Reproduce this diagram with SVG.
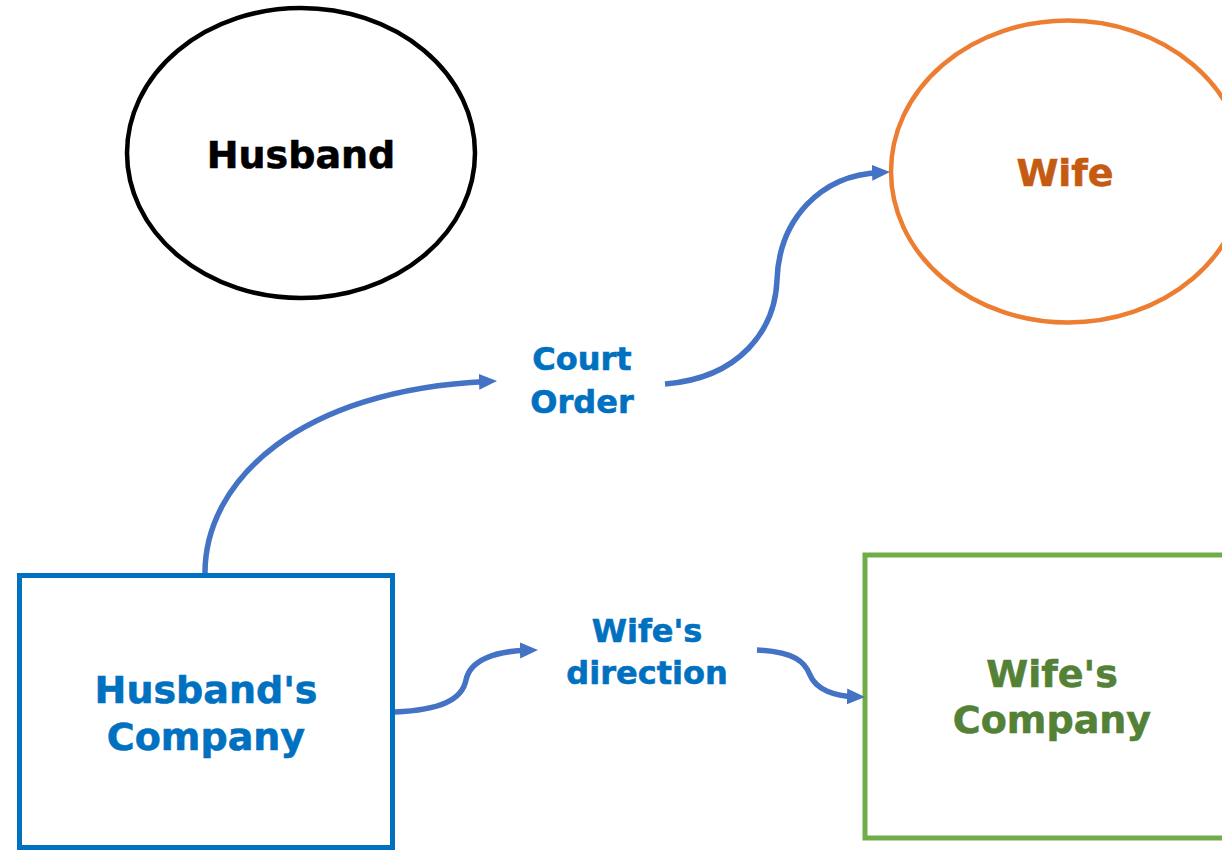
<svg xmlns="http://www.w3.org/2000/svg" width="1222" height="850" viewBox="0 0 1222 850">
  <defs>
    <style>
      text { font-family: "DejaVu Sans", Verdana, sans-serif; font-weight: bold; text-anchor: middle; stroke-width: 0.6; }
      .node-label { font-size: 38px; }
      .edge-label { font-size: 32px; fill: #0070C0; stroke: #0070C0; }
      .conn { fill: none; stroke: #4472C4; stroke-width: 5.5; marker-end: url(#arrow); }
    </style>
    <marker id="arrow" markerUnits="userSpaceOnUse" markerWidth="20" markerHeight="18" refX="8" refY="8" orient="auto">
      <path d="M0,0 L18,8 L0,16 Z" fill="#4472C4"/>
    </marker>
  </defs>
  <rect width="1222" height="850" fill="#ffffff"/>

  <g id="husband">
    <ellipse cx="301" cy="153" rx="174" ry="145" fill="none" stroke="#000000" stroke-width="4.5"/>
    <text class="node-label" x="301" y="168" fill="#000000" stroke="#000000">Husband</text>
  </g>

  <g id="wife">
    <ellipse cx="1068" cy="171.5" rx="177" ry="151" fill="none" stroke="#ED7D31" stroke-width="4.5"/>
    <text class="node-label" x="1065" y="186" fill="#C55A11" stroke="#C55A11">Wife</text>
  </g>

  <g id="husbands-company">
    <rect x="19.5" y="575.5" width="373" height="272" fill="none" stroke="#0070C0" stroke-width="5"/>
    <text class="node-label" x="206" y="703" fill="#0070C0" stroke="#0070C0">Husband's</text>
    <text class="node-label" x="206" y="750" fill="#0070C0" stroke="#0070C0">Company</text>
  </g>

  <g id="wifes-company">
    <rect x="865" y="555" width="380" height="283" fill="none" stroke="#70AD47" stroke-width="5"/>
    <text class="node-label" x="1052" y="687" fill="#538135" stroke="#538135">Wife's</text>
    <text class="node-label" x="1052" y="733" fill="#538135" stroke="#538135">Company</text>
  </g>

  <g id="connectors">
    <path class="conn" d="M205,573 C205,480 300,390 487,381.5"/>
    <path class="conn" d="M665,384 C740,378 775,330 777,280 C779,220 820,175 880,172.5"/>
    <path class="conn" d="M395,712 C440,710 462,700 466,680 C470,660 495,651 528,650.3"/>
    <path class="conn" d="M757,650 C795,652 805,662 810,675 C816,690 835,696 855,696.7"/>
    <text class="edge-label" x="582" y="370">Court</text>
    <text class="edge-label" x="582" y="413">Order</text>
    <text class="edge-label" x="647" y="642">Wife's</text>
    <text class="edge-label" x="647" y="684">direction</text>
  </g>
</svg>
